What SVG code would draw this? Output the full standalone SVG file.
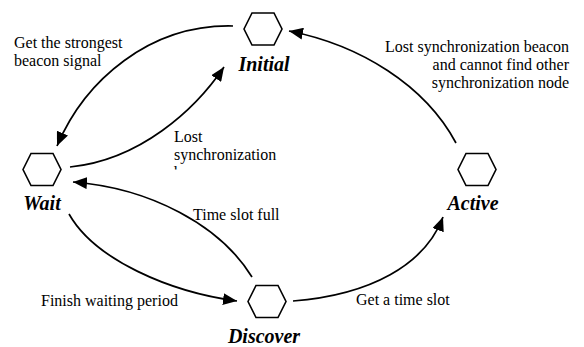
<svg xmlns="http://www.w3.org/2000/svg" width="584" height="347" viewBox="0 0 584 347">
<style>
.hex{fill:#fff;stroke:#000;stroke-width:1.6}
.nl{font-family:"Liberation Serif","Times New Roman",serif;font-size:20px;font-weight:bold;font-style:italic;fill:#000}
.el{font-family:"Liberation Serif","Times New Roman",serif;font-size:16px;fill:#000}
.c{fill:none;stroke:#000;stroke-width:1.7;marker-end:url(#ah)}
</style>
<defs>
<marker id="ah" markerUnits="userSpaceOnUse" markerWidth="15" markerHeight="12" refX="14" refY="6" orient="auto">
<path d="M0,0 L14,6 L0,12 z" fill="#000"/>
</marker>
<polygon id="hx" points="-19,0 -11,-16 11,-16 19,0 11,16 -11,16"/>
<clipPath id="clipb"><rect x="150" y="0" width="150" height="169.5"/></clipPath>
</defs>
<rect width="584" height="347" fill="#fff"/>
<g id="connectors">
<path class="c" d="M233,26 C150,24 85,80 57,146"/>
<path class="c" d="M70,167 C140,160 195,110 224,67"/>
<path class="c" d="M456,143 C425,85 360,45 289,31"/>
<path class="c" d="M252,277 C220,225 150,188 73,182"/>
<path class="c" d="M69,214 C95,260 170,292 237,301"/>
<path class="c" d="M293,301 C370,295 425,265 443,217"/>
<text class="el" x="14" y="48">Get the strongest</text>
<text class="el" x="14" y="66">beacon signal</text>
<text class="el" x="174" y="142">Lost</text>
<text class="el" x="174" y="160">synchronization</text>
<text class="el" x="174" y="178" clip-path="url(#clipb)">beacon</text>
<text class="el" x="569" y="52" text-anchor="end">Lost synchronization beacon</text>
<text class="el" x="569" y="70" text-anchor="end">and cannot find other</text>
<text class="el" x="569" y="88" text-anchor="end">synchronization node</text>
<text class="el" x="193" y="220">Time slot full</text>
<text class="el" x="41" y="306">Finish waiting period</text>
<text class="el" x="356" y="305">Get a time slot</text>
</g>
<g id="initial">
<use href="#hx" x="263" y="29" class="hex"/>
<text class="nl" x="264" y="71" text-anchor="middle">Initial</text>
</g>
<g id="wait">
<use href="#hx" x="42" y="169.5" class="hex"/>
<text class="nl" x="42" y="210" text-anchor="middle">Wait</text>
</g>
<g id="active">
<use href="#hx" x="477" y="169.5" class="hex"/>
<text class="nl" x="473" y="210" text-anchor="middle">Active</text>
</g>
<g id="discover">
<use href="#hx" x="267" y="301.5" class="hex"/>
<text class="nl" x="264" y="343" text-anchor="middle">Discover</text>
</g>
</svg>
